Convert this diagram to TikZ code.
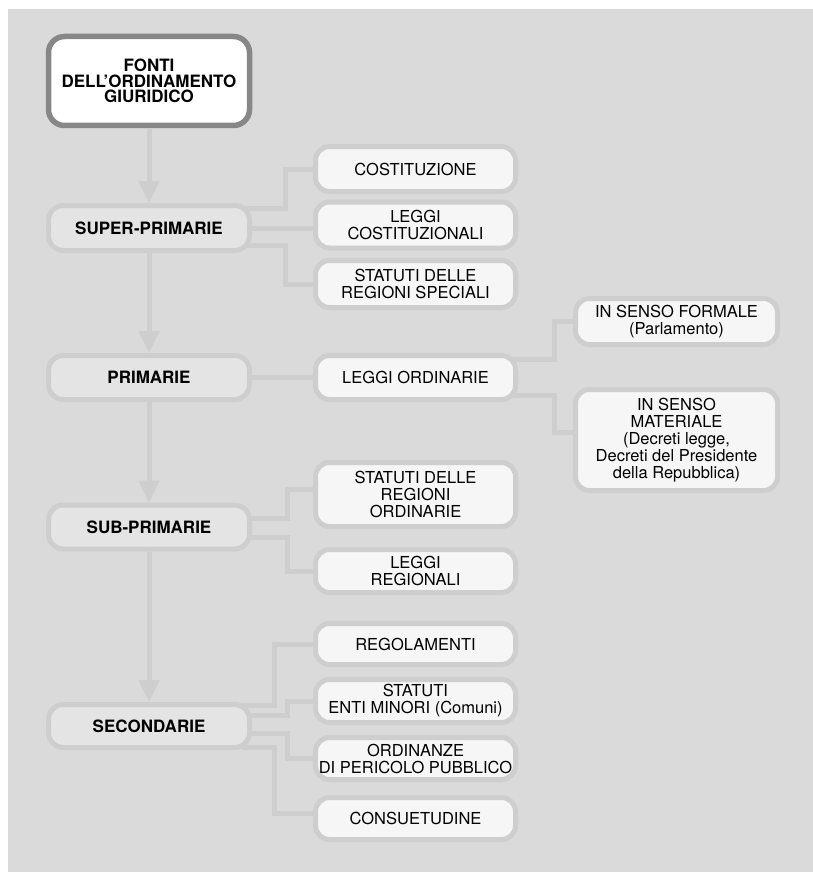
\documentclass[tikz,border=0pt]{standalone}
\usepackage{fontspec}
\setmainfont{TeX Gyre Heros}
\usetikzlibrary{arrows.meta,calc}
\pgfdeclarelayer{background}
\pgfsetlayers{background,main}
\definecolor{bggray}{RGB}{218,218,218}
\definecolor{linegray}{RGB}{206,206,206}
\definecolor{levelfill}{RGB}{228,228,228}
\definecolor{leaffill}{RGB}{246,246,246}
\definecolor{rootgray}{RGB}{135,135,135}
\tikzstyle{root} = [draw=rootgray, line width=5.5pt, fill=white, rounded corners=16pt, minimum width=201pt, minimum height=89pt, align=center, font=\fontsize{17}{15.5}\selectfont\bfseries]
\tikzstyle{level} = [draw=linegray, line width=5pt, fill=levelfill, rounded corners=15pt, minimum width=201pt, minimum height=44pt, align=center, font=\fontsize{17}{16}\selectfont\bfseries]
\tikzstyle{leaf} = [draw=linegray, line width=5pt, fill=leaffill, rounded corners=14pt, minimum width=200pt, minimum height=43pt, align=center, font=\fontsize{16.5}{17}\selectfont]
\tikzstyle{link} = [linegray, line width=5pt]
\tikzstyle{arrow} = [linegray, line width=5pt, -{Triangle[width=20pt,length=22pt]}]

\begin{document}
\begin{tikzpicture}[x=1pt,y=-1pt]
  \useasboundingbox (0,0) rectangle (813,872);

  % left column
  \node[root] (fonti) at (149,81) {FONTI\\DELL’ORDINAMENTO\\GIURIDICO};
  \node[level, minimum height=45pt] (super) at (149,228) {SUPER-PRIMARIE};
  \node[level] (prim) at (149,377.5) {PRIMARIE};
  \node[level] (sub) at (149,527) {SUB-PRIMARIE};
  \node[level, minimum height=43pt] (sec) at (149,726) {SECONDARIE};

  % middle column
  \node[leaf, minimum height=45pt] (cost) at (415.5,169) {COSTITUZIONE};
  \node[leaf, minimum height=46pt] (lcost) at (415.5,225) {LEGGI\\COSTITUZIONALI};
  \node[leaf, minimum height=47pt] (sspec) at (415.5,284) {STATUTI DELLE\\REGIONI SPECIALI};
  \node[leaf, minimum height=44pt] (lord) at (415.5,377.5) {LEGGI ORDINARIE};
  \node[leaf, minimum height=64pt] (sord) at (415.5,494.5) {STATUTI DELLE\\REGIONI\\ORDINARIE};
  \node[leaf] (lreg) at (415.5,571) {LEGGI\\REGIONALI};
  \node[leaf, minimum height=41pt] (reg) at (415.5,644) {REGOLAMENTI};
  \node[leaf] (enti) at (415.5,701) {STATUTI\\ENTI MINORI (Comuni)};
  \node[leaf, minimum height=42pt] (ordz) at (415.5,758.5) {ORDINANZE\\DI PERICOLO PUBBLICO};
  \node[leaf, minimum height=42pt] (cons) at (415.5,818.5) {CONSUETUDINE};

  % right column
  \node[leaf, minimum width=202pt, minimum height=46pt] (form) at (676.5,321.5) {IN SENSO FORMALE\\(Parlamento)};
  \node[leaf, minimum width=202pt, minimum height=101pt] (mat) at (676.5,440) {IN SENSO\\MATERIALE\\(Decreti legge,\\Decreti del Presidente\\della Repubblica)};

  \draw[arrow] (fonti.south) -- (super.north);
  \draw[arrow] (super.south) -- (prim.north);
  \draw[arrow] (prim.south) -- (sub.north);
  \draw[arrow] (sub.south) -- (sec.north);

  \begin{pgfonlayer}{background}
    \fill[bggray] (8,9) rectangle (813,872);

    \draw[link] ([xshift=-10pt,yshift=20pt]super.east) -- ++(43pt,0) |- (cost.west);
    \draw[link] (super) -- (super -| lcost.west);
    \draw[link] ([xshift=-10pt,yshift=-17pt]super.east) -- ++(43pt,0) |- (sspec.west);

    \draw[link] (prim) -- (prim -| lord.west);
    \draw[link] ([xshift=-10pt,yshift=18.5pt]lord.east) -- ++(46pt,0) |- (form.west);
    \draw[link] ([xshift=-10pt,yshift=-17.5pt]lord.east) -- ++(46pt,0) |- ([yshift=8pt]mat.west);

    \draw[link] ([xshift=-10pt,yshift=9pt]sub.east) -- ++(45pt,0) |- ([yshift=5pt]sord.west);
    \draw[link] ([xshift=-10pt,yshift=-10pt]sub.east) -- ++(45pt,0) |- (lreg.west);

    \draw[link] ([xshift=-10pt,yshift=21pt]sec.east) -- ++(32pt,0) |- (reg.west);
    \draw[link] ([xshift=-10pt,yshift=11pt]sec.east) -- ++(45pt,0) |- (enti.west);
    \draw[link] ([xshift=-10pt,yshift=-7pt]sec.east) -- ++(45pt,0) |- (ordz.west);
    \draw[link] ([xshift=-10pt,yshift=-21pt]sec.east) -- ++(32pt,0) |- ([yshift=5pt]cons.west);
  \end{pgfonlayer}
\end{tikzpicture}
\end{document}
